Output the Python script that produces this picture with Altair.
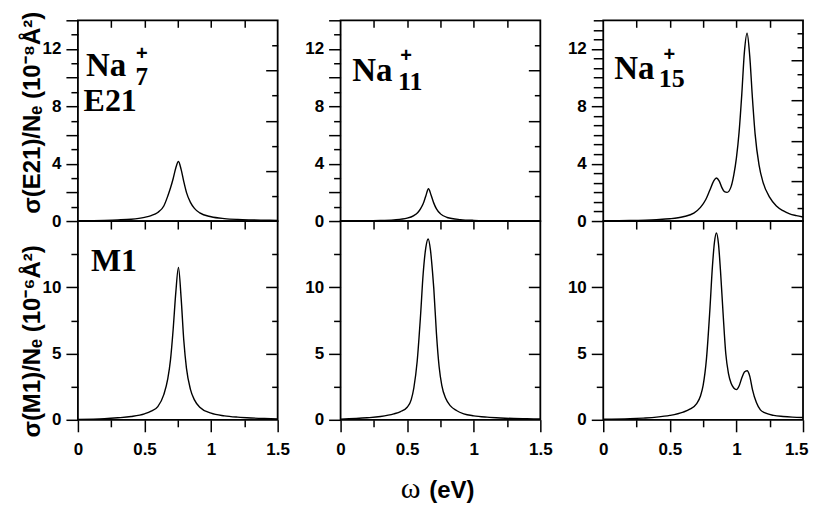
import altair as alt
import pandas as pd

# ---------------- data ----------------
# Na7+  E21
omega_na7_e21 = [0.0, 0.2, 0.3, 0.4, 0.5, 0.55, 0.6, 0.645, 0.675, 0.695, 0.715, 0.735, 0.755,
                 0.775, 0.795, 0.815, 0.845, 0.875, 0.915, 1.0, 1.1, 1.2, 1.3, 1.4, 1.5]
sigma_na7_e21 = [0.02, 0.05, 0.08, 0.13, 0.26, 0.38, 0.6, 1.05, 1.75, 2.3, 2.95, 3.7, 4.15,
                 3.6, 2.75, 2.0, 1.3, 0.88, 0.57, 0.3, 0.17, 0.11, 0.08, 0.06, 0.05]
# Na7+  M1
omega_na7_m1 = [0.0, 0.2, 0.3, 0.4, 0.5, 0.55, 0.6, 0.645, 0.675, 0.695, 0.715, 0.735, 0.755,
                0.775, 0.795, 0.815, 0.845, 0.875, 0.915, 1.0, 1.1, 1.2, 1.3, 1.4, 1.5]
sigma_na7_m1 = [0.03, 0.08, 0.15, 0.25, 0.45, 0.65, 1.0, 1.9, 3.1, 4.5, 6.8, 9.6, 11.5,
                9.2, 6.0, 3.9, 2.3, 1.5, 0.95, 0.5, 0.3, 0.2, 0.14, 0.1, 0.07]
# Na11+ E21
omega_na11_e21 = [0.0, 0.3, 0.4, 0.5, 0.55, 0.58, 0.6, 0.62, 0.64, 0.66, 0.68, 0.7, 0.72,
                  0.75, 0.8, 0.9, 1.0, 1.2, 1.5]
sigma_na11_e21 = [0.01, 0.04, 0.08, 0.2, 0.38, 0.6, 0.85, 1.2, 1.75, 2.25, 1.8, 1.25, 0.85,
                  0.5, 0.25, 0.1, 0.05, 0.02, 0.01]
# Na11+ M1
omega_na11_m1 = [0.0, 0.2, 0.3, 0.4, 0.45, 0.5, 0.53, 0.55, 0.575, 0.6, 0.62, 0.64, 0.658,
                 0.675, 0.69, 0.7, 0.72, 0.74, 0.76, 0.79, 0.825, 0.87, 0.925, 1.0, 1.1,
                 1.2, 1.3, 1.4, 1.5]
sigma_na11_m1 = [0.05, 0.15, 0.25, 0.45, 0.62, 0.95, 1.5, 2.4, 4.4, 7.8, 11.0, 13.0, 13.65,
                 12.8, 11.2, 9.9, 6.5, 4.0, 2.6, 1.6, 1.05, 0.7, 0.45, 0.3, 0.2,
                 0.14, 0.1, 0.08, 0.06]
# Na15+ E21
omega_na15_e21 = [0.0, 0.2, 0.4, 0.5, 0.6, 0.68, 0.73, 0.77, 0.8, 0.83, 0.85, 0.87, 0.89,
                  0.91, 0.93, 0.96, 0.98, 1.0, 1.02, 1.04, 1.06, 1.08, 1.1, 1.12, 1.14,
                  1.17, 1.2, 1.25, 1.3, 1.35, 1.4, 1.45, 1.5]
sigma_na15_e21 = [0.02, 0.04, 0.1, 0.16, 0.3, 0.55, 0.95, 1.5, 2.15, 2.8, 3.0, 2.8, 2.35,
                  2.05, 2.0, 2.4, 3.2, 4.4, 6.2, 8.8, 11.8, 13.1, 11.5, 8.6, 6.1,
                  3.9, 2.7, 1.65, 1.05, 0.72, 0.5, 0.38, 0.28]
# Na15+ M1
omega_na15_m1 = [0.0, 0.2, 0.3, 0.4, 0.5, 0.6, 0.65, 0.7, 0.73, 0.75, 0.775, 0.8, 0.82,
                 0.835, 0.85, 0.865, 0.88, 0.9, 0.92, 0.94, 0.96, 0.98, 1.0, 1.02, 1.04,
                 1.06, 1.08, 1.1, 1.12, 1.15, 1.18, 1.22, 1.28, 1.35, 1.42, 1.5]
sigma_na15_m1 = [0.04, 0.08, 0.13, 0.2, 0.33, 0.58, 0.8, 1.2, 1.8, 2.6, 4.6, 8.2, 11.6,
                 13.4, 14.1, 13.3, 11.3, 8.0, 5.0, 3.5, 2.75, 2.4, 2.28, 2.55, 3.15,
                 3.6, 3.7, 3.3, 2.3, 1.3, 0.75, 0.5, 0.33, 0.25, 0.2, 0.17]

cluster_sizes = ["7", "11", "15"]
row_names = ["E21", "M1"]
y_titles = ["σ(E21)/Nₑ (10⁻⁸Å²)", "σ(M1)/Nₑ (10⁻⁶Å²)"]
x_title_symbol = "ω"
x_title_unit = "(eV)"

# tick values
x_major = [0, 0.5, 1, 1.5]
x_minor = [0.25, 0.75, 1.25]
x_inner = [0.25, 0.5, 0.75, 1, 1.25]
top_left_major = [0, 2, 4, 6, 8, 10, 12, 14]
top_left_minor = [1, 3, 5, 7, 9, 11, 13]
top_left_major_c3 = [0, 4, 8, 12]
top_left_minor_c3 = [k * 2 / 3 for k in range(1, 22) if k % 6 != 0]
top_right_long = [3.5, 7, 10.5]
top_right_short = [1.75, 5.25, 8.75, 12.25]
top_right_long_c3 = [k * 14 / 15 for k in (3, 6, 9, 12)]
top_right_short_c3 = [k * 14 / 15 for k in range(1, 15) if k % 3 != 0]
bot_major = [0, 5, 10]
bot_minor = [2.5, 7.5, 12.5]

SANS = "Liberation Sans"
SERIF = "Liberation Serif"
W = 200
H_TOP, H_BOT = 201, 199

xs = alt.Scale(domain=[0, 1.5], nice=False, zero=False)


def axis(orient, values, size, offset=0, labels=False, expr=None, **kw):
    d = dict(orient=orient, values=values, tickSize=size, offset=offset,
             labels=labels, domain=False, grid=False, title=None,
             labelFont=SANS, labelFontWeight="bold", labelFontSize=17,
             labelOverlap=False, labelFlush=False, labelPadding=5,
             tickColor="black", labelColor="black", titleColor="black", tickWidth=1.5)
    if expr is not None:
        d["labelExpr"] = expr
    d.update(kw)
    return alt.Axis(**d)


def panel(w, v, row, col):
    ymax = 14 if row == 0 else 15
    ys = alt.Scale(domain=[0, ymax], nice=False, zero=True)
    df = pd.DataFrame({"w": w, "v": v})
    ytitle = {}
    if col == 0:
        ytitle = dict(title=y_titles[row], titleFont=SANS, titleFontWeight="bold",
                      titleFontSize=24, titleAngle=270, titleX=-38.5,
                      titleY=92 if row == 0 else 120, titleAlign="center",
                      titleBaseline="alphabetic")
    if row == 0:
        if col < 2:
            yl = axis("left", top_left_major, 12, labels=True,
                      expr="datum.value % 4 == 0 ? '' + datum.value : ''", **ytitle)
            yl2 = axis("left", top_left_minor, 7)
            yr = axis("right", top_right_long, 12, offset=-12)
            yr2 = axis("right", top_right_short, 6, offset=-6)
        else:
            yl = axis("left", top_left_major_c3, 12, labels=True,
                      expr="'' + datum.value")
            yl2 = axis("left", top_left_minor_c3, 10)
            yr = axis("right", top_right_long_c3, 12, offset=-12)
            yr2 = axis("right", top_right_short_c3, 6, offset=-6)
        xb = None
        xb2 = None
        xt = axis("top", x_inner, 7, offset=-7)
    else:
        yl = axis("left", bot_major, 12, labels=True, expr="'' + datum.value", **ytitle)
        yl2 = axis("left", bot_minor, 7)
        yr = axis("right", [5, 10], 12, offset=-12)
        yr2 = axis("right", bot_minor, 6, offset=-6)
        xkw = dict(labelPadding=10)
        if col == 1:
            xkw.update(title=x_title_unit, titleFont=SANS, titleFontWeight="bold",
                       titleFontSize=24, titleX=111, titleY=78, titleAlign="center",
                       titleBaseline="alphabetic", titleAngle=0)
        if col == 2:
            # keep the last label inside the page
            xkw.update(labelAlign={"condition": {"test": "datum.value == 1.5", "value": "right"},
                                   "value": "center"},
                       labelOffset={"condition": {"test": "datum.value == 1.5", "value": 5},
                                    "value": 0})
        xb = axis("bottom", x_major, 12, labels=True, expr="'' + datum.value", **xkw)
        xb2 = axis("bottom", x_minor, 7)
        xt = axis("top", x_inner, 8, offset=-8)

    def enc(chart, xa, ya):
        return chart.encode(
            x=alt.X("w:Q", scale=xs, axis=xa),
            y=alt.Y("v:Q", scale=ys, axis=ya),
        )

    base = alt.Chart(df)
    line = enc(base.mark_line(color="black", strokeWidth=1.4, interpolate="monotone", clip=True), xb, yl)
    h2 = enc(base.mark_line(strokeOpacity=0), xb2, yl2)
    h3 = enc(base.mark_line(strokeOpacity=0), xt, yr)
    h4 = enc(base.mark_line(strokeOpacity=0), None, yr2)

    def txt(t, x, y, font, size, align="left", baseline="alphabetic", weight="bold"):
        return alt.Chart(alt.Data(values=[{}])).mark_text(
            text=t, font=font, fontSize=size, fontWeight=weight,
            align=align, baseline=baseline, color="black"
        ).encode(x=alt.X(datum=x, scale=xs, axis=None),
                 y=alt.Y(datum=y, scale=ys, axis=None))

    layers = [line, h2, h3, h4]
    if row == 0:
        pos = [(0.06, 10.1, 0.48, 11.67, 0.48, 9.52),
               (0.088, 9.75, 0.491, 11.49, 0.523, 9.17),
               (0.0825, 9.94, 0.496, 11.55, 0.515, 9.33)][col]
        layers.append(txt("Na", pos[0], pos[1], SERIF, 33))
        layers.append(txt("+", pos[2], pos[3], SANS, 20, align="center", baseline="middle"))
        layers.append(txt(cluster_sizes[col], pos[4], pos[5], SERIF, 26 if col else 25, align="center"))
        if col == 0:
            layers.append(txt(row_names[0], 0.0425, 7.66, SERIF, 32))
    else:
        if col == 0:
            layers.append(txt(row_names[1], 0.0975, 11.23, SERIF, 32))
        if col == 1:
            layers.append(txt(x_title_symbol, 0.525, -5.88, SERIF, 30, align="center", weight="normal"))

    return alt.layer(*layers).resolve_axis(x="independent", y="independent").properties(
        width=W, height=H_TOP if row == 0 else H_BOT)


chart = alt.concat(
    panel(omega_na7_e21, sigma_na7_e21, 0, 0),
    panel(omega_na11_e21, sigma_na11_e21, 0, 1),
    panel(omega_na15_e21, sigma_na15_e21, 0, 2),
    panel(omega_na7_m1, sigma_na7_m1, 1, 0),
    panel(omega_na11_m1, sigma_na11_m1, 1, 1),
    panel(omega_na15_m1, sigma_na15_m1, 1, 2),
    columns=3, spacing={"row": 0, "column": 63}, bounds="flush"
).properties(
    padding={"left": 11, "top": 2, "right": 0, "bottom": 0}
).configure(background="white").configure_view(
    stroke="black", strokeWidth=1.8
).configure_axis(
    tickColor="black", labelColor="black", titleColor="black", tickWidth=1.5
)

chart.save("out.html", embed_options={"renderer": "svg", "actions": False})
